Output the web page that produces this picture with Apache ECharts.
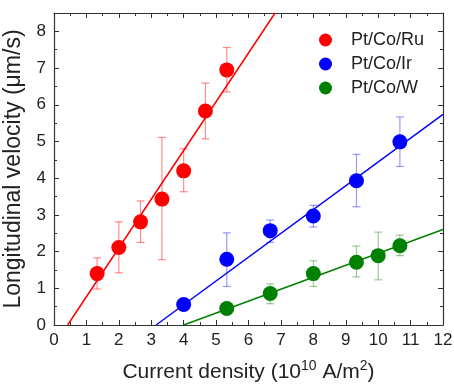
<!DOCTYPE html>
<html>
<head>
<meta charset="utf-8">
<script src="https://cdn.jsdelivr.net/npm/echarts@6/dist/echarts.min.js"></script>
<style>
  html, body { margin: 0; padding: 0; background: #fff; }
  #chart { width: 454px; height: 386px; }
</style>
</head>
<body>
<div id="chart"></div>
<script>
// Pt/Co/Ru
const xRu = [1.33, 2, 2.67, 3.33, 4, 4.67, 5.33]
const vRu = [1.4, 2.11, 2.81, 3.43, 4.2, 5.83, 6.95]
const loRu = [0.98, 1.42, 2.25, 1.78, 3.63, 5.07, 6.35]
const hiRu = [1.83, 2.81, 3.38, 5.11, 4.8, 6.59, 7.56]

// Pt/Co/Ir
const xIr = [4, 5.33, 6.67, 8, 9.33, 10.67]
const vIr = [0.56, 1.79, 2.57, 2.97, 3.93, 4.99]
const loIr = [0.5, 1.05, 2.25, 2.67, 3.22, 4.32]
const hiIr = [0.62, 2.51, 2.86, 3.26, 4.65, 5.67]

// Pt/Co/W
const xW = [5.33, 6.67, 8, 9.33, 10, 10.67]
const vW = [0.45, 0.86, 1.4, 1.71, 1.89, 2.16]
const loW = [0.4, 0.58, 1.05, 1.31, 1.23, 1.89]
const hiW = [0.5, 1.12, 1.75, 2.15, 2.53, 2.45]

// linear fit end points
const fitRuX = [0.42, 6.82]
const fitRuY = [0, 8.5]
const fitIrX = [3.15, 12]
const fitIrY = [0, 5.74]
const fitWX = [4, 12]
const fitWY = [0, 2.6]

const names = ['Pt/Co/Ru', 'Pt/Co/Ir', 'Pt/Co/W']
const colors = ['#ff0000', '#0000ff', '#008000']
const errColors = ['rgba(255,0,0,0.45)', 'rgba(0,0,255,0.4)', 'rgba(0,128,0,0.4)']

const zip = (a, b) => a.map((v, i) => [v, b[i]])
const zip3 = (a, b, c) => a.map((v, i) => [v, b[i], c[i]])

const chart = echarts.init(document.getElementById('chart'))

function errorBars(data, color) {
  return {
    type: 'custom',
    z: 1,
    silent: true,
    renderItem: (params, api) => {
      const x = api.value(0)
      const lo = api.coord([x, api.value(1)])
      const hi = api.coord([x, api.value(2)])
      const w = 4
      const style = { stroke: color, lineWidth: 1.2 }
      return {
        type: 'group',
        children: [
          { type: 'line', shape: { x1: lo[0], y1: lo[1], x2: hi[0], y2: hi[1] }, style },
          { type: 'line', shape: { x1: lo[0] - w, y1: lo[1], x2: lo[0] + w, y2: lo[1] }, style },
          { type: 'line', shape: { x1: hi[0] - w, y1: hi[1], x2: hi[0] + w, y2: hi[1] }, style }
        ]
      }
    },
    data: data
  }
}

function fitLine(xs, ys, color) {
  return {
    type: 'line',
    z: 2,
    silent: true,
    symbol: 'none',
    lineStyle: { color: color, width: 1.5 },
    data: zip(xs, ys)
  }
}

function points(name, xs, ys, color) {
  return {
    name: name,
    type: 'scatter',
    z: 3,
    symbol: 'circle',
    symbolSize: 15,
    itemStyle: { color: color, opacity: 1 },
    data: zip(xs, ys)
  }
}

const tickStyle = { color: '#333', width: 1 }
const font = 'Liberation Sans, Arial, sans-serif'

const baseAxis = {
  axisLine: { show: true, onZero: false, lineStyle: { color: '#333', width: 1.2 } },
  axisTick: { show: true, inside: true, length: 5, lineStyle: tickStyle },
  minorTick: { show: true, splitNumber: 2, length: 3, lineStyle: tickStyle },
  splitLine: { show: false }
}

chart.setOption({
  animation: false,
  textStyle: { fontFamily: font },
  grid: { left: 54, right: 11, top: 13, bottom: 61, containLabel: false, outerBoundsMode: 'none' },
  legend: {
    orient: 'vertical',
    left: 314,
    top: 26,
    icon: 'circle',
    itemWidth: 13,
    itemHeight: 13,
    itemGap: 6,
    data: names,
    textStyle: { fontSize: 18, color: '#222', padding: [0, 0, 0, 14], lineHeight: 18 }
  },
  xAxis: [
    Object.assign({}, baseAxis, {
      type: 'value',
      position: 'bottom',
      min: 0,
      max: 12,
      interval: 1,
      axisLabel: { fontSize: 17, color: '#222', margin: 7 },
      name: '{a|Current density (10}{s|10}{a| A/m}{s|2}{a|)}',
      nameLocation: 'middle',
      nameGap: 34,
      nameTextStyle: {
        rich: {
          a: { fontSize: 21, color: '#222', lineHeight: 24, verticalAlign: 'bottom' },
          s: { fontSize: 14, color: '#222', lineHeight: 24, verticalAlign: 'top' }
        }
      }
    }),
    Object.assign({}, baseAxis, {
      type: 'value',
      position: 'top',
      min: 0,
      max: 12,
      interval: 1,
      axisLabel: { show: false }
    })
  ],
  yAxis: [
    Object.assign({}, baseAxis, {
      type: 'value',
      position: 'left',
      min: 0,
      max: 8.5,
      interval: 1,
      axisLabel: { fontSize: 17, color: '#222', margin: 8, showMaxLabel: false },
      name: 'Longitudinal velocity (μm/s)',
      nameLocation: 'middle',
      nameGap: 16,
      nameTextStyle: { fontSize: 23, color: '#222' }
    }),
    Object.assign({}, baseAxis, {
      type: 'value',
      position: 'right',
      min: 0,
      max: 8.5,
      interval: 1,
      axisLabel: { show: false }
    })
  ],
  series: [
    errorBars(zip3(xRu, loRu, hiRu), errColors[0]),
    errorBars(zip3(xIr, loIr, hiIr), errColors[1]),
    errorBars(zip3(xW, loW, hiW), errColors[2]),
    fitLine(fitRuX, fitRuY, colors[0]),
    fitLine(fitIrX, fitIrY, colors[1]),
    fitLine(fitWX, fitWY, colors[2]),
    points(names[0], xRu, vRu, colors[0]),
    points(names[1], xIr, vIr, colors[1]),
    points(names[2], xW, vW, colors[2])
  ]
})
</script>
</body>
</html>
